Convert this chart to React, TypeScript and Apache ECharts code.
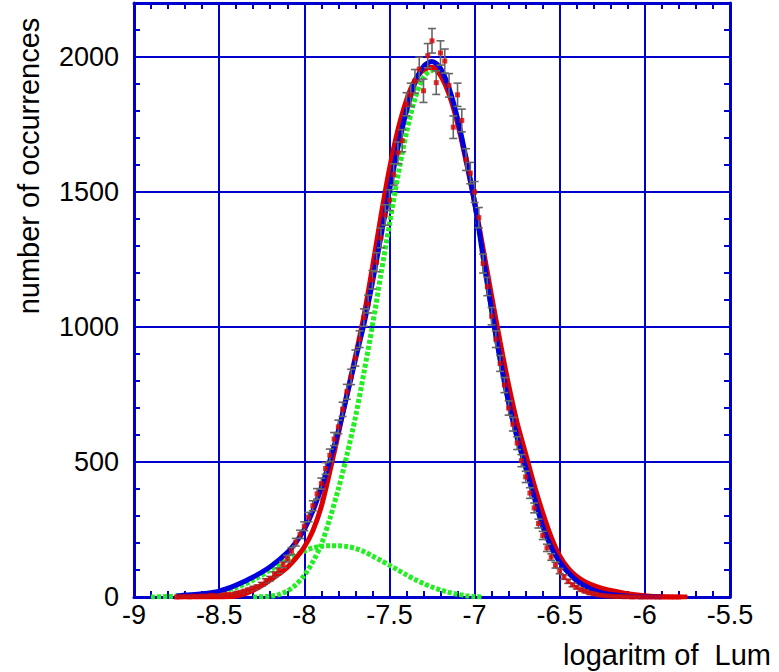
import React, { useEffect, useRef } from "react";
import * as echarts from "echarts";

const xTicks = { min: -9, max: -5.5, step: 0.5 };
const yTicks = { min: 0, max: 2200, step: 500, minor: 100 };

// histogram points [logL, count]
const histPoints: [number, number][] = [
  [-8.75, 0], [-8.725, 1], [-8.7, 2], [-8.675, 1], [-8.65, 3], [-8.625, 2], [-8.6, 4], [-8.575, 3],
  [-8.55, 6], [-8.525, 5], [-8.5, 4], [-8.475, 8], [-8.45, 10], [-8.425, 9], [-8.4, 14], [-8.375, 17],
  [-8.35, 22], [-8.325, 27], [-8.3, 33], [-8.275, 38], [-8.25, 47], [-8.225, 60], [-8.2, 68], [-8.175, 84],
  [-8.15, 98], [-8.125, 120], [-8.1, 142], [-8.075, 170], [-8.05, 203], [-8.025, 232], [-8.0, 262], [-7.975, 296],
  [-7.95, 338], [-7.925, 382], [-7.9, 420], [-7.875, 476], [-7.85, 525], [-7.825, 585], [-7.8, 630], [-7.775, 695],
  [-7.75, 760], [-7.725, 815], [-7.7, 885], [-7.675, 955], [-7.65, 1035], [-7.625, 1085], [-7.6, 1175], [-7.575, 1240],
  [-7.55, 1330], [-7.525, 1415], [-7.5, 1470], [-7.475, 1565], [-7.45, 1645], [-7.425, 1690], [-7.4, 1825], [-7.375, 1860],
  [-7.35, 1910], [-7.325, 1955], [-7.3, 1875], [-7.275, 2005], [-7.25, 2060], [-7.225, 1905], [-7.2, 2015], [-7.175, 1985],
  [-7.15, 1895], [-7.125, 1740], [-7.1, 1860], [-7.075, 1765], [-7.05, 1620], [-7.025, 1570], [-7.0, 1500], [-6.975, 1405],
  [-6.95, 1235], [-6.925, 1150], [-6.9, 1040], [-6.875, 955], [-6.85, 865], [-6.825, 785], [-6.8, 700], [-6.775, 640],
  [-6.75, 570], [-6.725, 505], [-6.7, 445], [-6.675, 385], [-6.65, 330], [-6.625, 272], [-6.6, 228], [-6.575, 182],
  [-6.55, 148], [-6.525, 118], [-6.5, 96], [-6.475, 74], [-6.45, 58], [-6.425, 45], [-6.4, 36], [-6.375, 27],
  [-6.35, 21], [-6.325, 15], [-6.3, 12], [-6.275, 8], [-6.25, 6], [-6.225, 4], [-6.2, 3], [-6.175, 2],
  [-6.15, 2], [-6.125, 1], [-6.1, 1], [-6.075, 0], [-6.05, 1], [-6.025, 0], [-6.0, 0], [-5.975, 0],
  [-5.95, 0], [-5.925, 0], [-5.9, 0], [-5.875, 0], [-5.85, 0], [-5.825, 0], [-5.8, 0],
];

const blueFit: [number, number][] = [
  [-8.75, 4], [-8.7, 7], [-8.6, 12], [-8.5, 22], [-8.4, 44], [-8.3, 74], [-8.2, 112], [-8.1, 165],
  [-8.05, 202], [-8.0, 250], [-7.95, 318], [-7.9, 405], [-7.85, 505], [-7.8, 615], [-7.75, 745], [-7.7, 880],
  [-7.65, 1010], [-7.6, 1165], [-7.55, 1335], [-7.5, 1505], [-7.45, 1665], [-7.4, 1800], [-7.35, 1905], [-7.3, 1965],
  [-7.25, 1983], [-7.2, 1958], [-7.15, 1885], [-7.1, 1772], [-7.05, 1625], [-7.0, 1462], [-6.95, 1262], [-6.9, 1062],
  [-6.85, 880], [-6.8, 720], [-6.75, 590], [-6.7, 480], [-6.65, 370], [-6.6, 262], [-6.55, 185], [-6.5, 130],
  [-6.45, 90], [-6.4, 60], [-6.35, 40], [-6.3, 25], [-6.25, 15], [-6.2, 9], [-6.1, 3], [-6.0, 1], [-5.9, 0],
];

const redFit: [number, number][] = [
  [-8.75, 0], [-8.6, 0], [-8.5, 0], [-8.45, 1], [-8.4, 4], [-8.35, 12], [-8.3, 25], [-8.25, 42],
  [-8.2, 63], [-8.15, 85], [-8.1, 110], [-8.05, 143], [-8.0, 185], [-7.95, 245], [-7.9, 335], [-7.85, 465],
  [-7.8, 605], [-7.75, 750], [-7.7, 890], [-7.65, 1040], [-7.6, 1220], [-7.55, 1410], [-7.5, 1585], [-7.45, 1730],
  [-7.4, 1840], [-7.35, 1915], [-7.3, 1953], [-7.25, 1962], [-7.2, 1932], [-7.15, 1862], [-7.1, 1755], [-7.05, 1615],
  [-7.0, 1462], [-6.95, 1290], [-6.9, 1115], [-6.85, 945], [-6.8, 785], [-6.75, 645], [-6.7, 530], [-6.65, 415],
  [-6.6, 312], [-6.55, 222], [-6.5, 152], [-6.45, 106], [-6.4, 76], [-6.35, 56], [-6.3, 42], [-6.25, 32],
  [-6.2, 24], [-6.1, 12], [-6.0, 5], [-5.9, 1], [-5.8, 0], [-5.75, 0],
];

const greenMain: [number, number][] = [
  [-8.3, 0], [-8.2, 3], [-8.15, 9], [-8.1, 22], [-8.05, 45], [-8.0, 80], [-7.95, 130], [-7.9, 195],
  [-7.85, 290], [-7.8, 400], [-7.75, 525], [-7.7, 665], [-7.65, 830], [-7.6, 1005], [-7.55, 1195], [-7.5, 1380],
  [-7.45, 1560], [-7.4, 1720], [-7.35, 1845], [-7.3, 1925], [-7.25, 1950], [-7.2, 1935], [-7.15, 1872], [-7.1, 1760],
  [-7.05, 1620], [-7.0, 1458], [-6.95, 1260], [-6.9, 1060], [-6.85, 880], [-6.8, 720], [-6.75, 590], [-6.7, 480],
  [-6.65, 370], [-6.6, 262], [-6.55, 185], [-6.5, 130], [-6.45, 90], [-6.4, 60], [-6.35, 40], [-6.3, 25],
  [-6.25, 15], [-6.2, 9], [-6.1, 3], [-6.0, 0],
];

const greenSmall: [number, number][] = [
  [-8.9, 0], [-8.8, 2], [-8.7, 5], [-8.6, 10], [-8.5, 18], [-8.4, 35], [-8.3, 62], [-8.2, 100],
  [-8.1, 140], [-8.0, 170], [-7.95, 182], [-7.9, 188], [-7.85, 190], [-7.8, 190], [-7.75, 187], [-7.7, 180],
  [-7.65, 168], [-7.6, 152], [-7.55, 135], [-7.5, 118], [-7.45, 100], [-7.4, 82], [-7.35, 65], [-7.3, 50],
  [-7.25, 37], [-7.2, 26], [-7.15, 17], [-7.1, 10], [-7.05, 5], [-7.0, 2], [-6.95, 0],
];

const xName = "logaritm of  Lum";
const yName = "number of occurrences";

const AXIS_BLUE = "#0000cc";
const FONT = "Liberation Sans, Arial, sans-serif";

export default function App() {
  const ref = useRef<HTMLDivElement>(null);

  useEffect(() => {
    document.body.style.margin = "0";
    if (!ref.current) return;
    const chart = echarts.init(ref.current, undefined, { renderer: "svg" });

    const errData = histPoints
      .filter((p) => p[1] > 0)
      .map((p) => [p[0], p[1] - Math.sqrt(p[1]), p[1] + Math.sqrt(p[1])]);

    const tickAxisCommon = {
      type: "value" as const,
      axisLabel: { show: false },
      splitLine: { show: false },
    };

    const option: any = {
      animation: false,
      backgroundColor: "#ffffff",
      grid: { left: 134, right: 49, top: 3, bottom: 75, outerBoundsMode: "none" },
      xAxis: [
        {
          type: "value",
          position: "bottom",
          min: xTicks.min,
          max: xTicks.max,
          interval: xTicks.step,
          axisLine: { show: true, onZero: false, lineStyle: { color: AXIS_BLUE, width: 3 } },
          axisTick: { show: true, inside: true, length: 8, lineStyle: { color: AXIS_BLUE, width: 2 } },
          minorTick: { show: true, splitNumber: 5, length: 6, lineStyle: { color: AXIS_BLUE, width: 2 } },
          splitLine: { show: true, lineStyle: { color: AXIS_BLUE, width: 2 } },
          axisLabel: {
            show: true,
            color: "#000",
            fontSize: 27,
            fontFamily: FONT,
            margin: 4,
            formatter: (v: number) => String(v),
          },
        },
        {
          ...tickAxisCommon,
          position: "top",
          min: xTicks.min,
          max: xTicks.max,
          interval: xTicks.step,
          axisLine: { show: true, onZero: false, lineStyle: { color: AXIS_BLUE, width: 3 } },
          axisTick: { show: true, inside: true, length: 8, lineStyle: { color: AXIS_BLUE, width: 2 } },
          minorTick: { show: true, splitNumber: 5, length: 6, lineStyle: { color: AXIS_BLUE, width: 2 } },
        },
      ],
      yAxis: [
        {
          type: "value",
          position: "left",
          min: yTicks.min,
          max: yTicks.max,
          interval: yTicks.step,
          axisLine: { show: true, onZero: false, lineStyle: { color: AXIS_BLUE, width: 3 } },
          axisTick: { show: false },
          splitLine: { show: true, lineStyle: { color: AXIS_BLUE, width: 2 } },
          axisLabel: {
            show: true,
            showMaxLabel: false,
            color: "#000",
            fontSize: 27,
            fontFamily: FONT,
            margin: 15,
            formatter: (v: number) => String(v),
          },
        },
        {
          ...tickAxisCommon,
          position: "left",
          min: yTicks.min,
          max: yTicks.max,
          interval: yTicks.minor,
          axisLine: { show: false },
          axisTick: { show: true, inside: true, length: 6, lineStyle: { color: AXIS_BLUE, width: 2 } },
        },
        {
          ...tickAxisCommon,
          position: "right",
          min: yTicks.min,
          max: yTicks.max,
          interval: yTicks.minor,
          axisLine: { show: true, onZero: false, lineStyle: { color: AXIS_BLUE, width: 3 } },
          axisTick: { show: true, inside: true, length: 6, lineStyle: { color: AXIS_BLUE, width: 2 } },
        },
      ],
      series: [
        {
          type: "line",
          data: greenMain,
          smooth: 0.3,
          symbol: "none",
          lineStyle: { color: "#22ee22", width: 5, type: [4, 2] },
          z: 2,
        },
        {
          type: "line",
          data: greenSmall,
          smooth: 0.3,
          symbol: "none",
          lineStyle: { color: "#22ee22", width: 5, type: [4, 2] },
          z: 2,
        },
        {
          type: "line",
          data: redFit,
          smooth: 0.3,
          symbol: "none",
          lineStyle: { color: "#dd0000", width: 5 },
          z: 3,
        },
        {
          type: "line",
          data: blueFit,
          smooth: 0.3,
          symbol: "none",
          lineStyle: { color: "#0000dd", width: 5 },
          z: 4,
        },
        {
          type: "custom",
          data: errData,
          encode: { x: 0, y: [1, 2] },
          z: 5,
          renderItem: (_params: any, api: any) => {
            const x = api.value(0);
            const lo = api.coord([x, api.value(1)]);
            const hi = api.coord([x, api.value(2)]);
            const w = 4;
            const style = { stroke: "#666666", lineWidth: 1.6 };
            return {
              type: "group",
              children: [
                { type: "line", shape: { x1: lo[0], y1: lo[1], x2: hi[0], y2: hi[1] }, style },
                { type: "line", shape: { x1: hi[0] - w, y1: hi[1], x2: hi[0] + w, y2: hi[1] }, style },
                { type: "line", shape: { x1: lo[0] - w, y1: lo[1], x2: lo[0] + w, y2: lo[1] }, style },
              ],
            };
          },
        },
        {
          type: "scatter",
          data: histPoints,
          symbol: "rect",
          symbolSize: 5,
          itemStyle: { color: "#dd0000" },
          z: 6,
        },
      ],
      graphic: [
        {
          type: "text",
          x: 771,
          y: 655,
          style: {
            text: xName,
            fontSize: 29,
            fontFamily: FONT,
            fill: "#000",
            align: "right",
            verticalAlign: "middle",
          },
        },
        {
          type: "text",
          x: 29,
          y: 166,
          rotation: Math.PI / 2,
          style: {
            text: yName,
            fontSize: 29,
            fontFamily: FONT,
            fill: "#000",
            align: "center",
            verticalAlign: "middle",
          },
        },
      ],
    };

    chart.setOption(option);
    return () => chart.dispose();
  }, []);

  return <div ref={ref} style={{ width: 779, height: 672 }} />;
}
